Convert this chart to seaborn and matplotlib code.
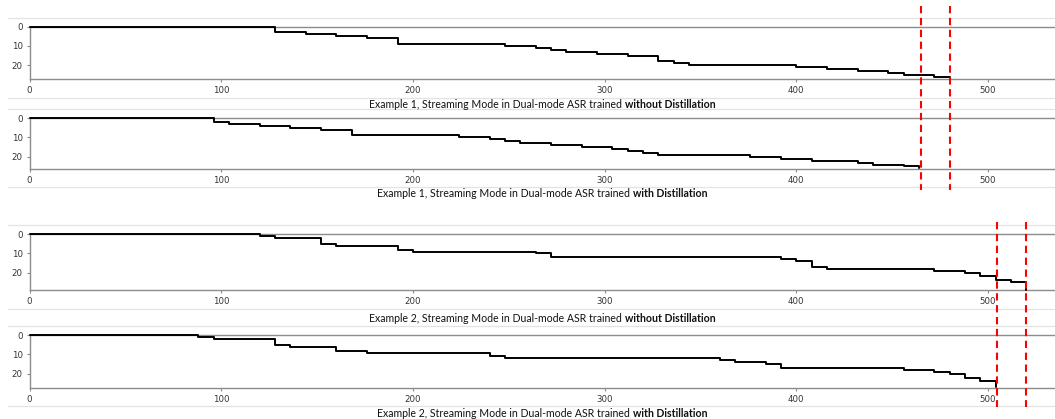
import matplotlib
matplotlib.use('Agg')
import matplotlib.pyplot as plt
import matplotlib.transforms as mtransforms
from matplotlib.lines import Line2D
import seaborn as sns

# Token emission steps: frame index where the emitted-token count changes
ex1_without_frames = [0, 128, 144, 160, 176, 192, 248, 264, 272, 280, 296, 312, 328, 336, 344,
                      400, 416, 432, 448, 456, 472, 480]
ex1_without_tokens = [0, 3, 4, 5, 6, 9, 10, 11, 12, 13, 14, 15, 18, 19, 20,
                      21, 22, 23, 24, 25, 26, 27]

ex1_with_frames = [0, 96, 104, 120, 136, 152, 168, 224, 240, 248, 256, 272, 288, 304, 312, 320,
                   328, 376, 392, 408, 432, 440, 456, 464]
ex1_with_tokens = [0, 2, 3, 4, 5, 6, 9, 10, 11, 12, 13, 14, 15, 16, 17, 18,
                   19, 20, 21, 22, 23, 24, 25, 26]

ex2_without_frames = [0, 120, 128, 152, 160, 192, 200, 264, 272, 392, 400, 408, 416, 472,
                      488, 496, 504, 512, 520]
ex2_without_tokens = [0, 1, 2, 5, 6, 8, 9, 10, 12, 13, 14, 17, 18, 19,
                      20, 22, 24, 25, 29]

ex2_with_frames = [0, 88, 96, 128, 136, 160, 176, 240, 248, 360, 368, 384, 392, 456,
                   472, 480, 488, 496, 504]
ex2_with_tokens = [0, 1, 2, 5, 6, 8, 9, 11, 12, 13, 14, 15, 17, 18,
                   19, 20, 22, 24, 27]

# end-of-utterance markers (frames) for each example
ex1_markers = [465, 480]
ex2_markers = [505, 520]

captions = [
    ("Example 1, Streaming Mode in Dual-mode ASR trained ", "without Distillation"),
    ("Example 1, Streaming Mode in Dual-mode ASR trained ", "with Distillation"),
    ("Example 2, Streaming Mode in Dual-mode ASR trained ", "without Distillation"),
    ("Example 2, Streaming Mode in Dual-mode ASR trained ", "with Distillation"),
]

W, H = 1055, 419
SPINE = '#8c8c8c'

sns.set_style('ticks')
plt.rcParams['font.family'] = ['Lato', 'DejaVu Sans']

fig = plt.figure(figsize=(W / 100, H / 100), dpi=100)


def px_axes(top, bottom, left=29.5, right=1055):
    return fig.add_axes([left / W, 1 - bottom / H, (right - left) / W, (bottom - top) / H])


panels = [
    (ex1_without_frames, ex1_without_tokens, 26.7, 79.3),
    (ex1_with_frames, ex1_with_tokens, 118.0, 169.0),
    (ex2_without_frames, ex2_without_tokens, 234.3, 290.3),
    (ex2_with_frames, ex2_with_tokens, 335.3, 387.7),
]

axes = []
for frames, tokens, top, bottom in panels:
    ax = px_axes(top, bottom)
    sns.lineplot(x=frames, y=tokens, ax=ax, drawstyle='steps-post', estimator=None,
                 sort=False, color='black', linewidth=1.4, zorder=4, clip_on=False)
    ax.set_xlim(0, 535)
    ax.set_ylim(max(tokens) + 0.3, 0)
    ax.set_xticks([0, 100, 200, 300, 400, 500])
    ax.set_yticks([0, 10, 20])
    for side in ['left', 'top', 'bottom']:
        ax.spines[side].set_color(SPINE)
        ax.spines[side].set_linewidth(1.0)
    ax.spines['right'].set_visible(False)
    ax.tick_params(axis='both', length=2.5, width=0.8, color=SPINE, labelsize=6.2,
                   labelcolor='#333333', pad=2.5)
    for lbl in ax.get_xticklabels() + ax.get_yticklabels():
        lbl.set_family(['DejaVu Sans'])
    ax.set_xlabel('')
    ax.set_ylabel('')
    axes.append(ax)

# light separators between the stacked figure strips
for y in [18.3, 98.3, 109.5, 186.7, 225.0, 309.3, 326.0, 406.0]:
    fig.add_artist(Line2D([8 / W, 1], [1 - y / H, 1 - y / H], color='#e3e3e3', linewidth=0.9))

# red dashed boundary markers spanning both strips of an example
for ax, markers, y0, y1 in [(axes[0], ex1_markers, 6.0, 190.0), (axes[2], ex2_markers, 222.0, 407.0)]:
    trans = mtransforms.blended_transform_factory(ax.transData, fig.transFigure)
    for m in markers:
        fig.add_artist(Line2D([m, m], [1 - y0 / H, 1 - y1 / H], transform=trans,
                              color='red', linewidth=1.5, linestyle=(0, (3.5, 2.2)), zorder=5))

# captions: regular text followed by a bold part, centred under the axes
cap_y = [104.0, 193.0, 318.0, 413.0]
center_x = (29.5 + 1055) / 2 / W
texts = []
for (plain, bold), y in zip(captions, cap_y):
    t1 = fig.text(center_x, 1 - y / H, plain, ha='left', va='center', fontsize=7.6, color='#111111')
    t2 = fig.text(center_x, 1 - y / H, bold, ha='left', va='center', fontsize=7.6,
                  fontweight='bold', color='#111111')
    texts.append((t1, t2, y))

fig.canvas.draw()
renderer = fig.canvas.get_renderer()
for t1, t2, y in texts:
    w1 = t1.get_window_extent(renderer).width
    w2 = t2.get_window_extent(renderer).width
    start = center_x * W - (w1 + w2) / 2
    t1.set_x(start / W)
    t2.set_x((start + w1) / W)

fig.savefig('out.png', dpi=100)
